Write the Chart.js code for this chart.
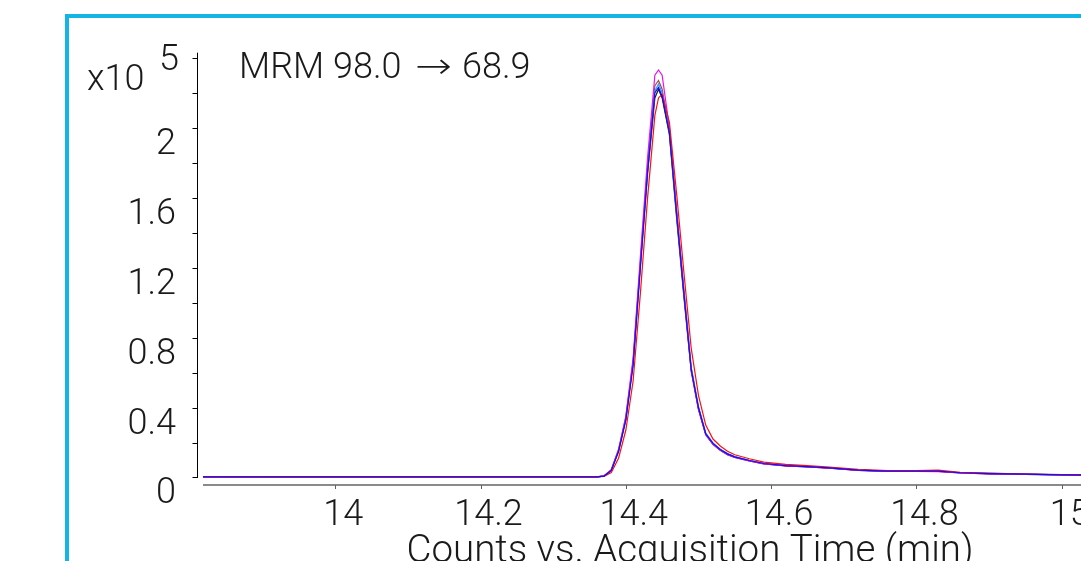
<!DOCTYPE html>
<html>
<head>
<meta charset="utf-8">
<script src="https://cdn.jsdelivr.net/npm/chart.js@4.4.1/dist/chart.umd.min.js"></script>
<style>
  html, body { margin: 0; padding: 0; background: #fff; overflow: hidden; width: 1081px; height: 561px; }
  #wrap { position: absolute; left: 0; top: 0; width: 1190px; height: 600px; }
  #frame { position: absolute; left: 65px; top: 14px; width: 1200px; height: 700px;
           border-left: 4px solid #12b5e3; border-top: 4px solid #12b5e3; box-sizing: border-box; pointer-events: none; }
</style>
</head>
<body>
<div id="wrap"><canvas id="c" width="1190" height="600"></canvas></div>
<div id="frame"></div>
<script>
// ---- data (counts x10^5 vs. acquisition time, min) ----
const times = [13.818, 13.9, 14.0, 14.1, 14.2, 14.3, 14.34, 14.36, 14.37, 14.38, 14.39, 14.40, 14.41, 14.42, 14.43, 14.44, 14.445, 14.45, 14.46, 14.47, 14.48, 14.49, 14.50, 14.51, 14.52, 14.53, 14.54, 14.55, 14.57, 14.59, 14.62, 14.65, 14.68, 14.72, 14.76, 14.80, 14.83, 14.86, 14.90, 14.95, 15.0, 15.05, 15.1, 15.16];

const blueTrace = [0.004,0.003,0.003,0.003,0.003,0.003,0.003,0.004,0.008,0.04,0.15,0.33,0.64,1.2,1.75,2.2,2.23,2.18,1.97,1.5,1.05,0.62,0.40,0.25,0.195,0.16,0.135,0.118,0.097,0.08,0.068,0.062,0.055,0.042,0.036,0.036,0.036,0.027,0.022,0.019,0.015,0.013,0.012,0.011];
const redTrace = [0.005,0.004,0.003,0.003,0.003,0.003,0.003,0.003,0.006,0.028,0.11,0.27,0.55,1.05,1.6,2.07,2.17,2.19,2.03,1.62,1.17,0.74,0.47,0.3,0.22,0.18,0.15,0.13,0.107,0.088,0.075,0.068,0.06,0.047,0.04,0.04,0.042,0.03,0.025,0.02,0.017,0.014,0.013,0.012];
const magentaTrace = [0.004,0.003,0.003,0.003,0.003,0.003,0.003,0.004,0.009,0.045,0.16,0.35,0.68,1.26,1.83,2.30,2.33,2.30,2.0,1.52,1.05,0.61,0.39,0.245,0.19,0.155,0.13,0.115,0.095,0.078,0.066,0.06,0.054,0.041,0.035,0.035,0.034,0.026,0.021,0.018,0.015,0.013,0.012,0.011];
const lightBlueTrace = [0.004,0.003,0.003,0.003,0.003,0.003,0.003,0.004,0.009,0.044,0.16,0.345,0.66,1.22,1.77,2.21,2.25,2.2,1.98,1.5,1.06,0.63,0.405,0.255,0.198,0.162,0.137,0.12,0.098,0.081,0.069,0.063,0.056,0.043,0.037,0.037,0.037,0.028,0.023,0.019,0.016,0.014,0.012,0.011];
const blackTrace = [0.004,0.003,0.003,0.003,0.003,0.003,0.003,0.004,0.008,0.04,0.15,0.33,0.65,1.21,1.74,2.17,2.22,2.17,1.96,1.48,1.03,0.61,0.39,0.245,0.19,0.155,0.13,0.115,0.095,0.078,0.066,0.061,0.054,0.041,0.035,0.035,0.035,0.026,0.021,0.018,0.015,0.013,0.012,0.011];
const brownTrace = [0.004,0.003,0.003,0.003,0.003,0.003,0.003,0.004,0.008,0.042,0.155,0.34,0.66,1.23,1.78,2.24,2.27,2.22,1.99,1.52,1.07,0.63,0.40,0.25,0.195,0.16,0.135,0.118,0.097,0.08,0.068,0.062,0.055,0.042,0.036,0.036,0.036,0.027,0.022,0.019,0.015,0.013,0.012,0.011];

const xTicks = [14, 14.2, 14.4, 14.6, 14.8, 15];
const xTickLabels = ['14', '14.2', '14.4', '14.6', '14.8', '15'];
const yTicks = [0, 0.2, 0.4, 0.6, 0.8, 1.0, 1.2, 1.4, 1.6, 1.8, 2.0, 2.2, 2.4];
const yTickLabels = ['0', '', '0.4', '', '0.8', '', '1.2', '', '1.6', '', '2', '', ''];

const titleParts = ['MRM 98.0', '\u2192', '68.9'];
const xAxisTitle = 'Counts vs. Acquisition Time (min)';
const yExpBase = 'x10';
const yExpPower = '5';

const FONT = 'Roboto';
const series = [
  { name: 'blue', values: blueTrace, color: '#1010ee' },
  { name: 'red', values: redTrace, color: '#ff1010' },
  { name: 'magenta', values: magentaTrace, color: '#ee10ee' },
  { name: 'lightblue', values: lightBlueTrace, color: '#3399ff' },
  { name: 'black', values: blackTrace, color: '#202020' },
  { name: 'brown', values: brownTrace, color: '#a0504a' }
];

const decorPlugin = {
  id: 'decor',
  afterDraw(chart) {
    const ctx = chart.ctx;
    const xs = chart.scales.x, ys = chart.scales.y;
    const ca = chart.chartArea;
    ctx.save();
    // y axis line + ticks
    const ax = ca.left - 6 + 0.5;
    const yTop = ys.getPixelForValue(2.4);
    const yZero = ys.getPixelForValue(0);
    ctx.strokeStyle = '#000';
    ctx.lineWidth = 1;
    ctx.beginPath();
    ctx.moveTo(ax, yTop - 5);
    ctx.lineTo(ax, yZero + 0.5);
    yTicks.forEach(v => {
      const py = Math.round(ys.getPixelForValue(v)) + 0.5;
      ctx.moveTo(ax - 5, py);
      ctx.lineTo(ax, py);
    });
    ctx.stroke();
    // x axis line + ticks
    ctx.strokeStyle = '#8a8a8a';
    ctx.lineWidth = 2;
    ctx.beginPath();
    ctx.moveTo(ca.left, ca.bottom);
    ctx.lineTo(ca.right, ca.bottom);
    ctx.stroke();
    ctx.strokeStyle = '#606060';
    ctx.lineWidth = 1;
    ctx.beginPath();
    xTicks.forEach(v => {
      const px = Math.round(xs.getPixelForValue(v)) + 0.5;
      ctx.moveTo(px, ca.bottom);
      ctx.lineTo(px, ca.bottom + 4);
    });
    ctx.stroke();
    // texts
    ctx.fillStyle = '#1a1a1a';
    ctx.font = '300 36px ' + FONT;
    ctx.textBaseline = 'alphabetic';
    ctx.textAlign = 'left';
    ctx.fillText(yExpBase, 87, 90);
    ctx.fillText(yExpPower, 159, 70);
    ctx.fillText(titleParts[0], 239, 78);
    // arrow, stretched to the reference's long arrow width
    ctx.font = '300 36px "DejaVu Sans", ' + FONT;
    const aw = ctx.measureText(titleParts[1]).width;
    ctx.save();
    ctx.translate(415, 78);
    ctx.scale(37 / aw, 1);
    ctx.fillText(titleParts[1], 0, 0);
    ctx.restore();
    ctx.font = '300 36px ' + FONT;
    ctx.fillText(titleParts[2], 462, 78);
    ctx.restore();
  }
};

new Chart(document.getElementById('c'), {
  type: 'line',
  data: {
    datasets: series.map(s => ({
      label: s.name,
      data: times.map((t, i) => ({ x: t, y: s.values[i] })),
      borderColor: s.color,
      borderWidth: 1.2,
      pointRadius: 0,
      tension: 0,
      fill: false
    }))
  },
  options: {
    responsive: false,
    animation: false,
    devicePixelRatio: 1,
    layout: { padding: { left: 0, right: 13, top: 57.7, bottom: 0 } },
    plugins: { legend: { display: false }, tooltip: { enabled: false }, title: { display: false } },
    scales: {
      x: {
        type: 'linear',
        min: 13.818,
        max: 15.1587,
        grid: { display: false, drawTicks: false },
        border: { display: false },
        afterBuildTicks: (scale) => { scale.ticks = xTicks.map(v => ({ value: v })); },
        afterFit: (scale) => { scale.height = 600 - 485; },
        ticks: {
          autoSkip: false,
          maxRotation: 0,
          padding: 9,
          labelOffset: 8,
          color: '#1a1a1a',
          font: { family: FONT, size: 36, weight: '300' },
          callback: (v, i) => xTickLabels[i]
        },
        title: {
          display: true,
          text: xAxisTitle,
          color: '#1a1a1a',
          font: { family: FONT, size: 38.5, weight: '300' },
          padding: { top: 0, bottom: 25 }
        }
      },
      y: {
        type: 'linear',
        min: -0.0429,
        max: 2.4,
        grid: { display: false, drawTicks: false },
        border: { display: false },
        afterBuildTicks: (scale) => { scale.ticks = yTicks.map(v => ({ value: v })); },
        afterFit: (scale) => { scale.width = 203; },
        ticks: {
          autoSkip: false,
          padding: 27,
          labelOffset: 17,
          color: '#1a1a1a',
          font: { family: FONT, size: 36, weight: '300' },
          callback: (v, i) => yTickLabels[i]
        }
      }
    }
  },
  plugins: [decorPlugin]
});
</script>
</body>
</html>
